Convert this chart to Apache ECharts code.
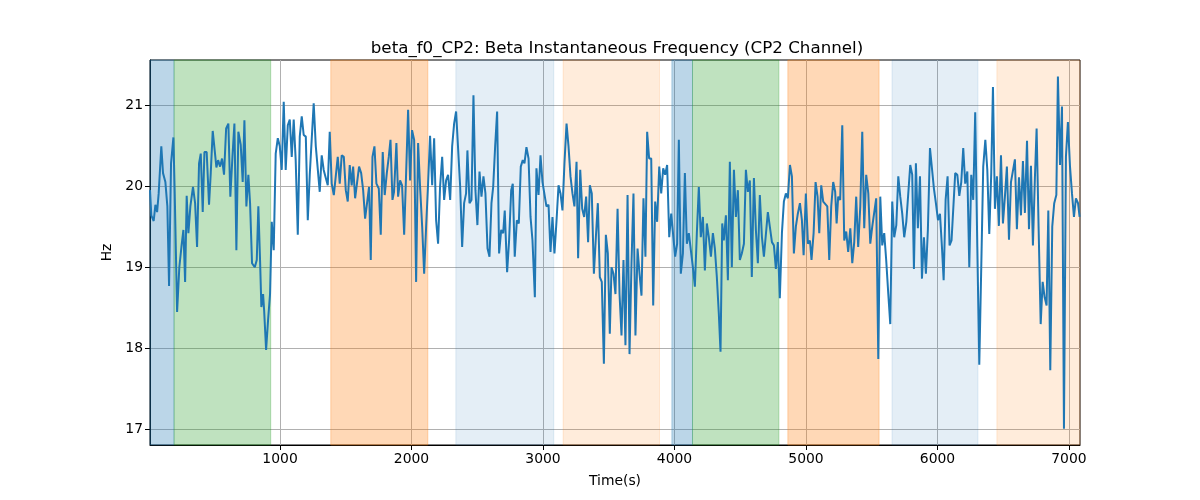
<!DOCTYPE html>
<html>
<head>
<meta charset="utf-8">
<script src="https://cdn.jsdelivr.net/npm/echarts@6/dist/echarts.min.js"></script>
<style>html,body{margin:0;padding:0;background:#fff}#c{width:1200px;height:500px}</style>
</head>
<body>
<div id="c"></div>
<script>
const titleText = 'beta_f0_CP2: Beta Instantaneous Frequency (CP2 Channel)';
const xLabel = 'Time(s)';
const yLabel = 'Hz';
const xTicks = [1000, 2000, 3000, 4000, 5000, 6000, 7000];
const yTicks = [17, 18, 19, 20, 21];
const xRange = [11, 7084];
const yRange = [16.81, 21.554];

const time = [
11,21,39,52,65,77,97,110,128,143,156,171,189,199,217,234,250,265,278,290,303,318,338,354,369,384,397,412,425,442,460,473,488,503,516,529,544,559,574,590,607,622,638,653,668,683,701,716,729,744,759,772,787,808,823,835,848,
858,871,879,894,909,924,937,952,967,983,998,1013,1028,1043,1059,1074,1089,1104,1119,1135,1150,1165,1180,1196,1211,1226,1241,1256,1272,1287,1302,1317,1332,1348,1363,1378,1393,1409,1424,1439,1454,1469,1485,1500,1515,1530,1545,1556,1571,1586,1601,1617,1632,1647,1662,1677,1690,1703,1718,1733,
1751,1766,1781,1796,1812,1827,1840,1855,1867,1885,1898,1913,1928,1944,1959,1974,1989,2004,2020,2035,2050,2065,2081,2096,2111,2126,2141,2157,2172,2187,2202,2217,2233,2248,2263,2278,2294,2309,2324,2339,2354,2370,2385,2400,2415,2425,2441,2456,2471,2486,2501,2517,2532,2547,2562,2578,2593,
2608,2621,2636,2651,2666,2682,2697,2709,2727,2742,2758,2770,2785,2801,2816,2831,2846,2859,2874,2890,2905,2920,2938,2950,2966,2981,2996,3011,3026,3042,3057,3072,3087,3103,3118,3133,3148,3163,3179,3194,3209,3224,3239,3255,3267,3283,3298,3313,3328,3343,3356,3371,3387,3402,3417,3432,3447,3463,3478,3493,3508,
3521,3536,3551,3567,3582,3597,3612,3627,3643,3658,3673,3688,3703,3719,3734,3749,3764,3779,3792,3807,3823,3838,3853,3868,3884,3899,3914,3929,3944,3960,3975,3990,4005,4020,4033,4048,4064,4079,4094,4109,4124,4140,4155,4170,4185,4200,4216,4231,4246,4261,4277,4292,4307,4322,4337,4350,4363,
4375,4391,4406,4421,4436,4452,4467,4482,4497,4512,4528,4543,4558,4573,4588,4604,4619,4634,4649,4665,4680,4695,4710,4725,4741,4756,4771,4786,4801,4817,4832,4847,4862,4878,4893,4908,4923,4938,4954,4969,4982,4999,5015,5030,5042,5058,5073,5088,5101,5116,5131,5146,5162,5177,5192,5207,5222,
5233,5245,5260,5276,5291,5306,5321,5337,5352,5367,5382,5397,5413,5428,5443,5458,5474,5489,5504,5519,5534,5550,5565,5580,5595,5610,5626,5641,5656,5671,5687,5702,5717,5732,5747,5763,5778,5793,5808,5821,5836,5851,5867,5882,5897,5912,5927,5943,5958,5973,5988,6004,6019,6034,6047,6062,6077,6092,
6107,6120,6135,6151,6166,6181,6196,6211,6227,6242,6257,6272,6287,6303,6318,6333,6348,6364,6379,6394,6409,6422,6437,6452,6467,6483,6498,6513,6528,6544,6559,6574,6589,6604,6620,6635,6650,6665,6681,6696,6711,6726,6741,6754,6769,6785,6800,6815,6830,6843,6858,6873,6888,6904,6916,6932,6947,6962,6977,6992,7008,7023,7038,7053,7069,7081
];
const hz = [
19.95,19.64,19.57,19.77,19.68,19.91,20.49,20.16,20.05,19.75,18.77,20.28,20.60,19.91,18.45,19.00,19.25,19.46,18.82,19.88,19.42,19.75,19.99,19.79,19.25,20.28,20.40,19.68,20.42,20.42,19.77,20.16,20.68,20.44,20.23,20.32,20.24,20.34,20.14,20.71,20.77,19.87,20.36,20.77,19.21,20.67,20.51,20.05,20.81,19.75,20.14,19.79,19.05,19.00,19.09,19.75,19.09,
18.51,18.67,18.47,17.98,18.35,18.67,19.56,19.21,20.40,20.59,20.49,20.20,21.04,20.20,20.75,20.82,20.36,20.82,20.32,19.40,20.61,20.86,20.63,20.61,19.58,20.14,20.12,21.02,20.49,20.49,19.93,20.38,20.20,20.10,20.01,20.67,20.03,19.89,19.91,20.36,20.03,20.38,20.36,19.95,19.81,20.26,20.01,20.24,19.85,19.87,20.24,20.16,19.95,19.60,19.60,19.99,19.09,20.36,20.49,20.03,
19.97,19.40,20.42,19.89,20.16,20.36,20.57,19.83,19.93,20.53,19.87,20.07,20.01,19.40,20.16,20.94,20.07,20.69,20.57,18.82,20.53,19.99,19.50,18.92,19.50,20.03,20.62,20.01,20.59,19.58,19.29,19.99,20.36,19.83,20.07,20.14,19.83,20.49,20.77,20.92,20.94,19.99,19.25,19.79,19.91,20.44,19.79,19.83,21.12,19.95,19.52,20.18,19.87,20.12,19.91,19.23,19.13,
19.79,19.99,20.49,20.92,19.17,19.46,19.42,19.70,18.94,19.33,19.95,20.03,19.13,19.58,19.54,20.24,20.32,20.28,20.48,20.34,19.62,19.33,18.63,20.22,19.89,20.38,20.05,20.05,19.75,19.77,19.19,19.62,19.17,19.58,20.01,19.91,19.70,20.28,20.77,20.49,20.12,19.91,19.75,20.30,19.11,20.20,19.72,19.62,19.87,19.31,20.01,19.91,18.92,19.37,19.79,18.88,18.82,17.81,19.40,19.17,18.18,
19.00,18.92,18.67,19.72,18.67,18.16,19.09,18.04,19.89,17.93,19.05,19.91,18.16,19.23,18.92,18.65,19.85,19.13,20.67,20.34,20.34,18.53,19.81,19.56,20.24,19.91,20.22,20.14,20.26,19.37,19.66,19.66,19.13,19.29,20.57,18.92,19.17,20.16,19.29,19.42,19.44,19.00,18.76,19.42,19.99,19.37,19.62,18.96,19.54,19.37,19.13,19.42,19.23,18.88,18.43,17.96,19.54,
19.33,19.64,18.84,20.30,19.00,20.20,19.62,19.95,19.09,19.17,19.29,20.20,19.93,20.07,18.88,20.10,19.46,19.05,19.89,19.37,19.13,19.11,19.68,19.66,19.31,19.27,18.98,19.31,18.62,19.42,19.81,19.91,19.85,20.26,20.12,19.17,19.50,19.66,19.79,19.58,19.15,19.91,19.29,19.33,19.09,19.42,20.05,19.87,19.42,20.01,19.81,19.81,19.75,19.09,19.75,20.05,19.93,
19.54,19.87,19.83,20.75,19.33,19.44,19.19,19.48,19.05,19.31,19.87,19.25,19.75,20.67,19.48,20.14,19.91,19.29,19.50,19.48,19.85,17.87,19.87,19.27,19.42,19.09,18.67,18.30,19.81,19.37,19.52,20.12,19.87,19.66,19.37,19.56,19.54,20.26,20.14,18.98,20.28,19.48,20.12,18.86,19.37,18.92,19.46,20.47,20.22,19.97,19.79,19.58,19.66,19.25,18.84,19.83,20.12,19.27,
19.33,19.33,20.16,20.14,19.88,20.05,20.47,20.03,20.18,19.00,20.14,19.83,20.91,19.25,17.80,19.00,20.24,20.57,20.20,19.41,20.16,21.22,19.72,20.12,19.51,20.38,19.54,19.87,20.24,19.34,20.05,20.07,20.33,19.47,20.11,19.64,20.31,19.67,20.56,19.47,20.25,19.27,20.10,20.71,19.50,18.30,18.82,18.63,18.53,19.70,17.73,19.50,19.79,19.89,21.35,20.26,20.98,17.01,20.36,20.79,20.24,19.91,19.62,19.85,19.79,19.62
];

// shaded phases: [start, end, kind]
const bandStart = [11, 194, 1386, 2337, 3153, 3980, 4137, 4862, 5654, 6452];
const bandEnd   = [194, 929, 2124, 3082, 3886, 4137, 4794, 5556, 6308, 7084];
const bandKind  = ['blueStrong','green','orangeStrong','blueLight','orangeLight','blueStrong','green','orangeStrong','blueLight','orangeLight'];
const bandColors = {
  blueStrong: 'rgba(31,119,180,0.3)',
  green: 'rgba(44,160,44,0.3)',
  orangeStrong: 'rgba(255,127,14,0.3)',
  blueLight: 'rgba(31,119,180,0.12)',
  orangeLight: 'rgba(255,127,14,0.15)'
};

const seriesData = time.map((t, i) => [t, hz[i]]);
const areas = bandStart.map((s, i) => [
  { xAxis: s, itemStyle: { color: bandColors[bandKind[i]], borderColor: bandColors[bandKind[i]], borderWidth: 1 } },
  { xAxis: bandEnd[i] }
]);

const font = 'DejaVu Sans';
const chart = echarts.init(document.getElementById('c'), null, { renderer: 'canvas' });
chart.setOption({
  animation: false,
  backgroundColor: '#fff',
  title: {
    text: titleText,
    left: 612, top: 35, textAlign: 'center',
    textStyle: { fontFamily: font, fontSize: 16.7, fontWeight: 'normal', color: '#000' }
  },
  grid: { left: 150, right: 120, top: 60, bottom: 55, show: true, borderColor: '#000', borderWidth: 1, backgroundColor: 'transparent' },
  xAxis: {
    type: 'value', min: xRange[0], max: xRange[1],
    name: xLabel, nameLocation: 'middle', nameGap: 29,
    nameTextStyle: { fontFamily: font, fontSize: 13.9, color: '#000' },
    axisLine: { show: true, onZero: false, lineStyle: { color: '#000', width: 1 } },
    axisTick: { show: true, length: 5, lineStyle: { color: '#000', width: 1 }, customValues: xTicks },
    axisLabel: { fontFamily: font, fontSize: 13.9, color: '#000', margin: 7, customValues: xTicks, formatter: v => String(v) },
    splitLine: { show: true, lineStyle: { color: '#b0b0b0', width: 1 } }
  },
  yAxis: {
    type: 'value', min: yRange[0], max: yRange[1],
    name: yLabel, nameLocation: 'middle', nameGap: 34,
    nameTextStyle: { fontFamily: font, fontSize: 13.9, color: '#000' },
    axisLine: { show: true, onZero: false, lineStyle: { color: '#000', width: 1 } },
    axisTick: { show: true, length: 5, lineStyle: { color: '#000', width: 1 }, customValues: yTicks },
    axisLabel: { fontFamily: font, fontSize: 13.9, color: '#000', margin: 7, customValues: yTicks, formatter: v => String(v) },
    splitLine: { show: true, lineStyle: { color: '#b0b0b0', width: 1 } }
  },
  series: [{
    type: 'line',
    data: seriesData,
    showSymbol: false,
    symbol: 'none',
    lineStyle: { color: '#1f77b4', width: 2 },
    itemStyle: { color: '#1f77b4' },
    z: 3,
    markArea: { silent: true, data: areas }
  }]
});
</script>
</body>
</html>
